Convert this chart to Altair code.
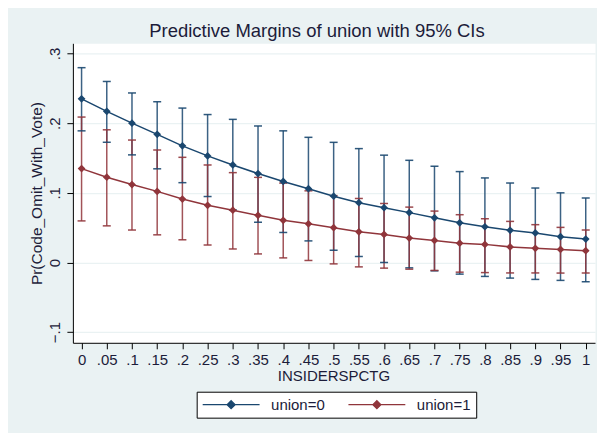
import altair as alt
import pandas as pd

# ---- data ----
x_vals = [0, 0.05, 0.1, 0.15, 0.2, 0.25, 0.3, 0.35, 0.4, 0.45, 0.5,
          0.55, 0.6, 0.65, 0.7, 0.75, 0.8, 0.85, 0.9, 0.95, 1]

u0_margin = [0.235, 0.217, 0.200, 0.184, 0.1675, 0.153, 0.140, 0.1277, 0.1164, 0.106, 0.0952,
             0.0859, 0.0787, 0.0716, 0.0642, 0.057, 0.0513, 0.0462, 0.0424, 0.037, 0.0336]
u0_upper = [0.2797, 0.2599, 0.2434, 0.2308, 0.2217, 0.2124, 0.2055, 0.196, 0.189, 0.1797, 0.1725,
            0.1635, 0.1541, 0.1467, 0.1382, 0.1305, 0.1214, 0.1141, 0.1069, 0.1, 0.0925]
u0_lower = [0.189, 0.1726, 0.1545, 0.1345, 0.1146, 0.0947, 0.0755, 0.0578, 0.0431, 0.031, 0.0176,
            0.0086, 0.0, -0.0077, -0.012, -0.0167, -0.02, -0.0224, -0.0243, -0.0257, -0.0277]

u1_margin = [0.1348, 0.1224, 0.1119, 0.1021, 0.0911, 0.0821, 0.0751, 0.0677, 0.0606, 0.0555, 0.0499,
             0.0441, 0.0403, 0.035, 0.0317, 0.0277, 0.026, 0.0224, 0.0203, 0.0188, 0.0169]
u1_upper = [0.2088, 0.1905, 0.1758, 0.1615, 0.151, 0.14, 0.129, 0.1222, 0.114, 0.1029, 0.096,
            0.0919, 0.0847, 0.0795, 0.0738, 0.0686, 0.0628, 0.059, 0.0543, 0.0504, 0.0466]
u1_lower = [0.0597, 0.0526, 0.0466, 0.0397, 0.0326, 0.0251, 0.0194, 0.0123, 0.0066, 0.0029, -0.002,
            -0.0063, -0.0081, -0.0096, -0.0114, -0.0139, -0.0145, -0.015, -0.015, -0.0152, -0.0152]

groups = ["union=0", "union=1"]
colors = ["#1A476F", "#90353B"]

x_ticks = [0, 0.05, 0.1, 0.15, 0.2, 0.25, 0.3, 0.35, 0.4, 0.45, 0.5,
           0.55, 0.6, 0.65, 0.7, 0.75, 0.8, 0.85, 0.9, 0.95, 1]
y_ticks = [-0.1, 0, 0.1, 0.2, 0.3]

title_text = "Predictive Margins of union with 95% CIs"
x_title = "INSIDERSPCTG"
y_title = "Pr(Code_Omit_With_Vote)"

# ---- table ----
rows = []
for g, m, lo, hi in [(groups[0], u0_margin, u0_lower, u0_upper),
                     (groups[1], u1_margin, u1_lower, u1_upper)]:
    for xv, mv, l, h in zip(x_vals, m, lo, hi):
        rows.append({"x": xv, "margin": mv, "lower": l, "upper": h, "group": g})
df = pd.DataFrame(rows)

FONT = "Liberation Sans"
TXT = "#1c1c3a"

xscale = alt.Scale(domain=[-0.0172, 1.0184], nice=False, zero=False)
yscale = alt.Scale(domain=[-0.1153, 0.3147], nice=False, zero=False)
cscale = alt.Scale(domain=groups, range=colors)

stata_fmt = "datum.value == 0 ? '0' : datum.value == 1 ? '1' : replace(format(datum.value, '.2~f'), '0.', '.')"

x_axis = alt.Axis(values=x_ticks, labelExpr=stata_fmt, title=x_title, grid=False,
                  tickSize=6, labelPadding=16, labelBaseline="alphabetic",
                  labelOverlap=False, labelFlush=False, labelBound=False,
                  labelFontSize=15, titleFontSize=15, titleFontWeight="normal",
                  titleX=261, titleY=38, titleBaseline="alphabetic", titleAlign="center")
y_axis = alt.Axis(values=y_ticks, labelExpr=stata_fmt, title=y_title, grid=True,
                  gridColor="#EAF2F3", gridWidth=1.2,
                  tickSize=6, labelPadding=7, labelAngle=270, labelAlign="center",
                  labelBaseline="alphabetic", labelOverlap=False, labelFlush=False,
                  labelFontSize=15, titleFontSize=15.5, titleFontWeight="normal",
                  titleAngle=270, titleX=-31, titleY=150, titleBaseline="alphabetic",
                  titleAlign="center")

# legend symbol: a line segment with a diamond in the middle
SYM = "M-4.07,0L4.07,0M0,-0.57L0.57,0L0,0.57L-0.57,0Z"
legend = alt.Legend(
    title=None, orient="none", legendX=124, legendY=349, direction="horizontal",
    symbolType=SYM, symbolSize=196, symbolStrokeWidth=1.3, symbolOpacity=1,
    symbolOffset=21.5, labelOffset=32,
    labelFontSize=15, columnPadding=20, padding=5,
    strokeColor="#000000", fillColor="#ffffff", labelColor=TXT, labelFont=FONT)

base = alt.Chart(df)
X = alt.X("x:Q", scale=xscale, axis=x_axis)
C = alt.Color("group:N", scale=cscale, legend=legend)

rules = base.mark_rule(strokeWidth=1.5, opacity=0.85).encode(
    x=X, y=alt.Y("lower:Q", scale=yscale, axis=y_axis), y2="upper:Q", color=C)
cap_hi = base.mark_tick(orient="horizontal", size=8, thickness=1.5, opacity=0.9).encode(
    x=X, y=alt.Y("upper:Q", scale=yscale), color=C)
cap_lo = base.mark_tick(orient="horizontal", size=8, thickness=1.5, opacity=0.9).encode(
    x=X, y=alt.Y("lower:Q", scale=yscale), color=C)
line = base.mark_line(strokeWidth=1.5).encode(
    x=X, y=alt.Y("margin:Q", scale=yscale), color=C)
pts = base.mark_point(shape="diamond", filled=True, size=60, opacity=1).encode(
    x=X, y=alt.Y("margin:Q", scale=yscale), color=C)

chart = alt.layer(rules, cap_hi, cap_lo, line, pts).properties(
    width=523, height=300,
    autosize=alt.AutoSizeParams(type="none"),
    padding={"left": 65, "top": 35, "right": 2, "bottom": 90},
    background="#EAF2F3",
    title=alt.TitleParams(text=title_text, fontSize=18.5, font=FONT, fontWeight="normal",
                          color=TXT, anchor="middle", dx=-17, dy=20, offset=8,
                          baseline="alphabetic"),
).configure(font=FONT).configure_view(
    fill="white", stroke="transparent"
).configure_axis(
    domainColor="#000000", tickColor="#000000", domainWidth=1, tickWidth=1,
    labelColor=TXT, titleColor=TXT, labelFont=FONT, titleFont=FONT
)

chart.save("out.html", embed_options={"renderer": "svg", "actions": False})
